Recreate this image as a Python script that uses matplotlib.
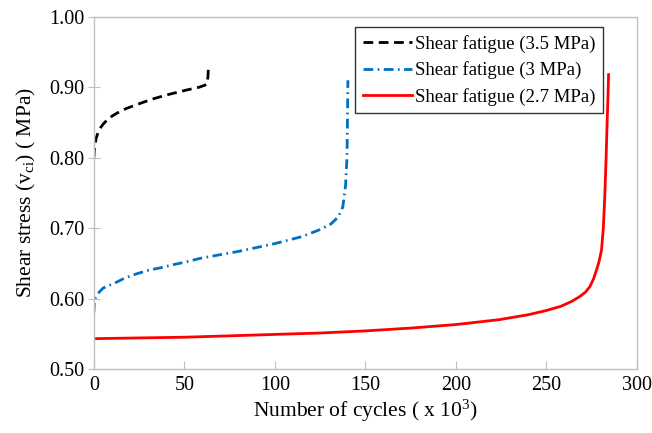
import numpy as np
import matplotlib.pyplot as plt

plt.rcParams['font.family'] = ['Liberation Serif', 'DejaVu Serif']
plt.rcParams['mathtext.fontset'] = 'custom'
plt.rcParams['mathtext.rm'] = 'Liberation Serif'
plt.rcParams['mathtext.it'] = 'Liberation Serif:italic'

# cycles (x 10^3) and shear stress (MPa)
cyc_35 = [0, 0.2, 0.6, 1.3, 2.3, 3.5, 5.2, 7.5, 10, 12.5, 18, 25.4, 32, 40, 51, 58, 61.3, 62.6, 63.0, 63.2]
vs_35 = [0.800, 0.810, 0.819, 0.828, 0.836, 0.842, 0.848, 0.854, 0.859, 0.863, 0.870, 0.877, 0.883,
         0.889, 0.896, 0.900, 0.903, 0.905, 0.915, 0.925]

cyc_3 = [0, 0.2, 0.6, 1.8, 5.2, 11.6, 17, 23.5, 30, 37.4, 43.7, 51, 58.6, 65, 80, 100, 115, 125, 131,
         135, 137.5, 139, 139.8, 140.1, 140.3]
vs_3 = [0.580, 0.592, 0.600, 0.606, 0.615, 0.622, 0.629, 0.635, 0.640, 0.644, 0.648, 0.652, 0.657, 0.660,
        0.667, 0.678, 0.688, 0.698, 0.706, 0.716, 0.730, 0.760, 0.800, 0.860, 0.910]

cyc_27 = [0, 25, 50, 75, 100, 125, 150, 175, 200, 224, 240, 250, 258, 264, 268.5, 271.5, 274, 276,
          277.7, 279, 280.4, 281.4, 282.2, 282.9, 283.5, 284, 284.3]
vs_27 = [0.543, 0.544, 0.545, 0.547, 0.549, 0.551, 0.554, 0.558, 0.563, 0.570, 0.577, 0.583, 0.589,
         0.596, 0.603, 0.609, 0.617, 0.628, 0.641, 0.652, 0.669, 0.700, 0.745, 0.797, 0.850, 0.890, 0.918]

fig = plt.figure(figsize=(6.52, 4.33), dpi=100)
ax = fig.add_axes([0.144, 0.148, 0.833, 0.813])

ax.plot(cyc_35, vs_35, color='black', lw=2.0, dashes=(3.5, 2.0), label='Shear fatigue (3.5 MPa)')
ax.plot(cyc_3, vs_3, color='#0070C0', lw=2.0, dashes=(3.5, 1.6, 0.6, 1.6), label='Shear fatigue (3 MPa)')
ax.plot(cyc_27, vs_27, color='#FF0000', lw=2.0, label='Shear fatigue (2.7 MPa)')

ax.set_xlim(0, 300)
ax.set_ylim(0.5, 1.0)
ax.set_xticks(np.arange(0, 301, 50))
ax.set_yticks(np.arange(0.5, 1.001, 0.1))
ax.set_yticklabels([f'{v:.2f}' for v in np.arange(0.5, 1.001, 0.1)])

for s in ax.spines.values():
    s.set_color('#bfbfbf')
    s.set_linewidth(1.0)
ax.tick_params(axis='x', direction='in', length=6, color='#bfbfbf', labelsize=14.5, pad=5)
ax.tick_params(axis='y', direction='inout', length=8, color='#bfbfbf', labelsize=14.5, pad=3)

ax.set_xlabel('Number of cycles ( x 10$^3$)', fontsize=15.5, labelpad=2)
ax.set_ylabel('Shear stress (v$_{\\rm ci}$) ( MPa)', fontsize=15.5, labelpad=8)

leg = ax.legend(loc='upper right', bbox_to_anchor=(0.938, 0.97), fontsize=13.5,
                frameon=True, fancybox=False, edgecolor='black', handlelength=2.6,
                borderpad=0.4, labelspacing=0.45, handletextpad=0.2, borderaxespad=0.0)
leg.get_frame().set_linewidth(1.0)

plt.savefig('out.png', dpi=100)
